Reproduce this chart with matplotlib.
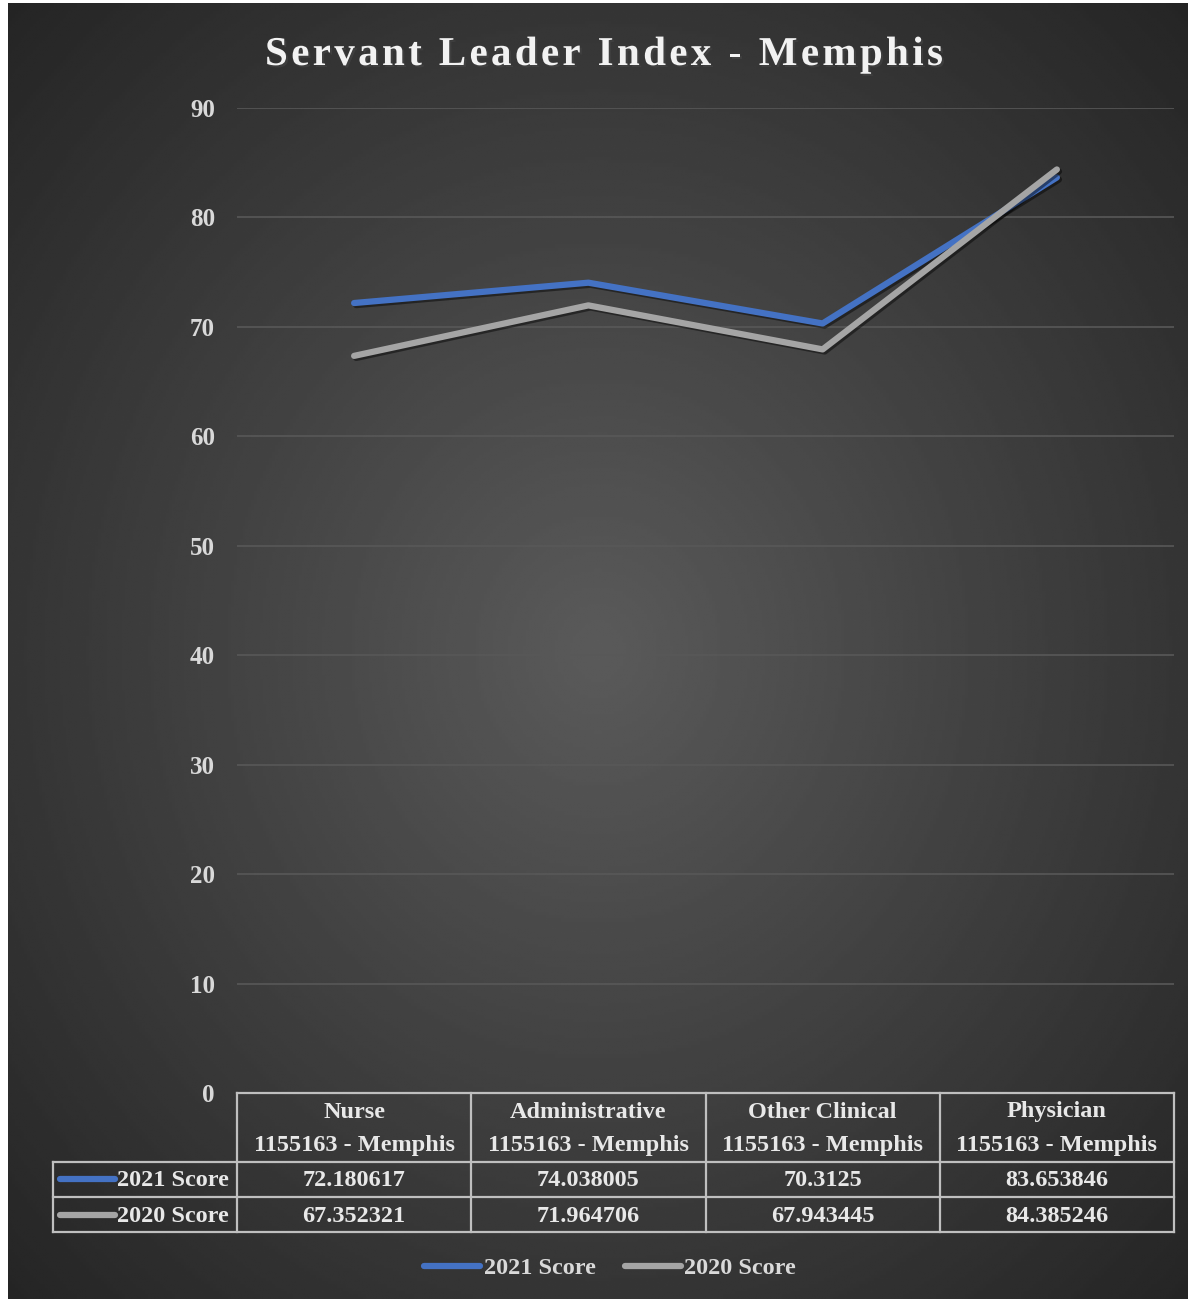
import numpy as np
import matplotlib
matplotlib.use("Agg")
import matplotlib.pyplot as plt
import matplotlib.patheffects as pe
from matplotlib.lines import Line2D
import matplotlib.transforms as mtransforms

plt.rcParams['font.family'] = ['Liberation Serif', 'DejaVu Serif']
plt.rcParams['font.weight'] = 'bold'

# Data
categories = ["Nurse", "Administrative", "Other Clinical", "Physician"]
site_name = "1155163 - Memphis"
score_2021 = [72.180617, 74.038005, 70.3125, 83.653846]
score_2020 = [67.352321, 71.964706, 67.943445, 84.385246]
score_labels = ["2021 Score", "2020 Score"]
score_colors = ["#4472C4", "#A5A5A5"]
y_ticks = [0, 10, 20, 30, 40, 50, 60, 70, 80, 90]

W, H = 1194, 1302
LW = 4.5
fig = plt.figure(figsize=(W / 100, H / 100), dpi=100, facecolor="white")

# dark radial background inside a thin white border
bg = fig.add_axes([8 / W, 3 / H, 1180 / W, 1296 / H])
yy, xx = np.mgrid[-1:1:400j, -1:1:400j]
rr = np.sqrt(xx ** 2 + yy ** 2) / np.sqrt(2)
bg.imshow(0.355 - 0.21 * rr, cmap="gray", vmin=0, vmax=1, aspect="auto",
          extent=[0, 1, 0, 1], interpolation="bilinear")
bg.set_axis_off()

# plot area
ax = fig.add_axes([237 / W, 1 - 1093 / H, 937 / W, 985 / H])
ax.patch.set_alpha(0)
x = np.arange(len(categories))
shadow = [pe.SimpleLineShadow(offset=(1.5, -1.5), alpha=0.45), pe.Normal()]
for vals, lab, col in zip([score_2021, score_2020], score_labels, score_colors):
    ax.plot(x, vals, color=col, lw=LW, solid_capstyle="round",
            solid_joinstyle="round", label=lab, path_effects=shadow)

ax.set_xlim(-0.5, len(categories) - 0.5)
ax.set_ylim(0, 90)
ax.set_yticks(y_ticks)
ax.set_xticks([])
ax.grid(axis="y", color="#585858", lw=1.2)
ax.set_axisbelow(True)
ax.tick_params(axis="y", length=0, pad=16, labelsize=18, labelcolor="#d9d9d9")
for s in ax.spines.values():
    s.set_visible(False)

# data table under the plot: x in data units, y in axes fraction
trans = mtransforms.blended_transform_factory(ax.transData, ax.transAxes)
px = 4 / 937  # data units per pixel along x
py = 1 / 985  # axes fraction per pixel along y
line_kw = dict(color="#bfbfbf", lw=1.6, transform=trans, clip_on=False)
txt_kw = dict(color="#e8e8e8", fontsize=17.5, fontweight="bold", transform=trans,
              ha="center", va="center", clip_on=False)

left = -0.5
right = len(categories) - 0.5
label_left = left - 184 * px
y_head, y_r1, y_r2 = -69 * py, -104 * py, -139 * py

ax.plot([left, right], [0, 0], **line_kw)
for yv in (y_head, y_r1, y_r2):
    ax.plot([label_left, right], [yv, yv], **line_kw)
ax.plot([label_left, label_left], [y_head, y_r2], **line_kw)
for xv in np.arange(left, right + 0.01, 1.0):
    ax.plot([xv, xv], [0, y_r2], **line_kw)

for i, cat in enumerate(categories):
    ax.text(i, -19 * py, cat, **txt_kw)
    ax.text(i, -53 * py, site_name, **txt_kw)
    ax.text(i, -88 * py, str(score_2021[i]), **txt_kw)
    ax.text(i, -124 * py, str(score_2020[i]), **txt_kw)

for yv, lab, col in zip([-86 * py, -122 * py], score_labels, score_colors):
    ax.plot([left - 177 * px, left - 122 * px], [yv, yv], color=col, lw=LW,
            solid_capstyle="round", transform=trans, clip_on=False)
    ax.text(left - 8 * px, yv - 2 * py, lab, **{**txt_kw, "ha": "right"})

# legend
handles = [Line2D([], [], color=c, lw=LW, solid_capstyle="round") for c in score_colors]
fig.legend(handles, score_labels, loc="center", bbox_to_anchor=(0.511, 1 - 1268 / H),
           ncol=2, frameon=False, fontsize=17.5, labelcolor="#d9d9d9",
           handlelength=2.3, handletextpad=0.15, columnspacing=1.2)


# title with slightly widened letter spacing
def spaced_title(text, x_center_px, y_base_px, width_px, **kw):
    renderer = fig.canvas.get_renderer()
    probe = fig.text(0, 0, "", **kw)

    def measure(s):
        probe.set_text(s)
        return probe.get_window_extent(renderer).width

    base = measure("xx")
    adv = [measure("x" + c + "x") - base for c in text]
    gap = (width_px - sum(adv)) / (len(text) - 1)
    probe.remove()
    xpos = x_center_px - width_px / 2
    for c, a in zip(text, adv):
        fig.text(xpos / W, 1 - y_base_px / H, c, ha="left", va="baseline", **kw)
        xpos += a + gap


spaced_title("Servant Leader Index - Memphis", 604, 65, 678,
             fontsize=29.5, fontweight="bold", color="#f2f2f2",
             path_effects=[pe.withSimplePatchShadow(offset=(1.5, -1.5), alpha=0.5)])

fig.savefig("out.png", dpi=100, facecolor="white")
